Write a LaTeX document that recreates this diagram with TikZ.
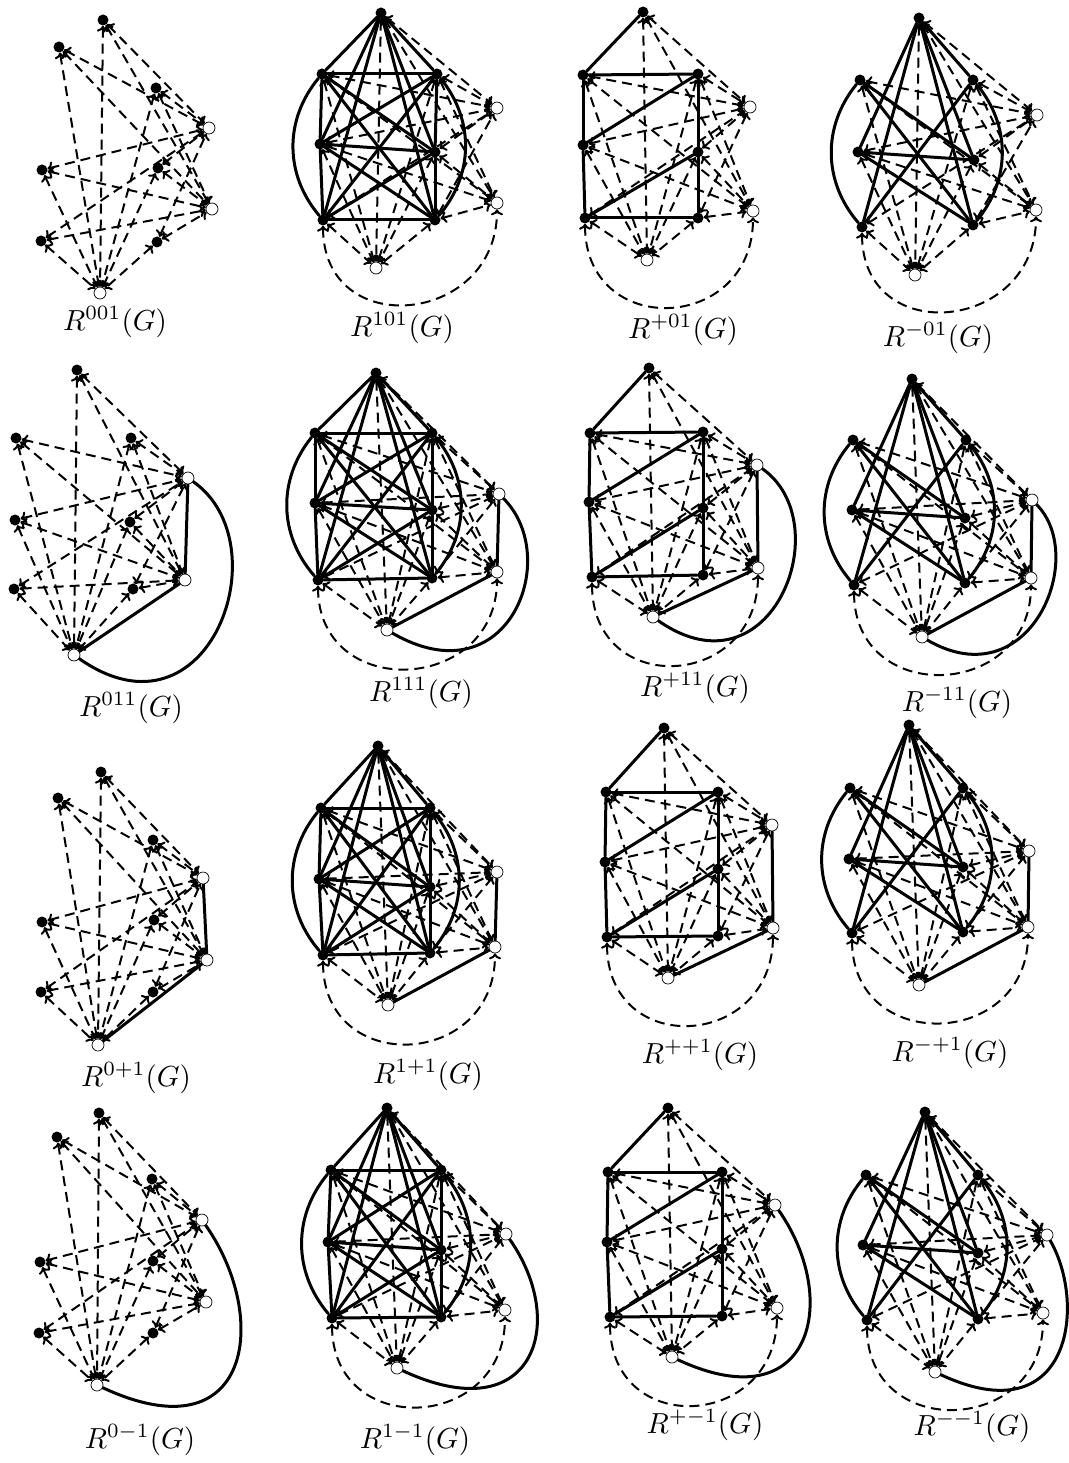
\documentclass[tikz,border=0pt]{standalone}
\usetikzlibrary{arrows.meta}
\pgfdeclarelayer{bg}
\pgfsetlayers{bg,main}
\newcommand\mkpanel[3]{%
 \foreach \nm/\xx/\yy in {#2}{\node[bv] (#1\nm) at (\xx,-\yy) {};}%
 \foreach \nm/\xx/\yy in {#3}{\node[wv] (#1\nm) at (\xx,-\yy) {};}%
}
% dashed black-white edges, all straight (column 1)
\newcommand\dashA[1]{%
 \foreach \bb in {T,LT,RT,LM,RM,LB,RB}{\foreach \ww in {W1,W2,W3}{\draw[dedge] (#1\bb) -- (#1\ww);}}%
}
% dashed black-white edges, LB-W2 as arc (columns 2-4)
\newcommand\dashB[1]{%
 \foreach \bb in {T,LT,RT,LM,RM,LB,RB}{\foreach \ww in {W1,W3}{\draw[dedge] (#1\bb) -- (#1\ww);}}%
 \foreach \bb in {T,LT,RT,LM,RM,RB}{\draw[dedge] (#1\bb) -- (#1W2);}%
 \draw[dedge] (#1LB) .. controls +(-90:122) and +(-90:122) .. (#1W2);%
}
\newcommand\Kseven[1]{%
 \foreach \uu/\vv in {T/LT,T/RT,T/LM,T/RM,T/LB,T/RB,LT/RT,LT/LM,LT/RM,LT/RB,RT/LM,RT/RM,RT/LB,LM/RM,LM/LB,LM/RB,RM/LB,RM/RB,LB/RB}{\draw[sedge] (#1\uu) -- (#1\vv);}%
 \draw[sedge] (#1LT) to[bend right=40] (#1LB);%
 \draw[sedge] (#1RT) to[bend left=40] (#1RB);%
}
\newcommand\Gplus[1]{%
 \foreach \uu/\vv in {T/LT,LT/RT,LT/LM,LM/LB,RT/RM,RM/RB,LB/RB,LM/RT,LB/RM}{\draw[sedge] (#1\uu) -- (#1\vv);}%
}
\newcommand\Gminus[1]{%
 \foreach \uu/\vv in {T/RT,T/LM,T/RM,T/LB,T/RB,LT/RM,LT/RB,RT/LB,LM/RM,LM/RB}{\draw[sedge] (#1\uu) -- (#1\vv);}%
 \draw[sedge] (#1LT) to[bend right=40] (#1LB);%
 \draw[sedge] (#1RT) to[bend left=40] (#1RB);%
}
\newcommand\wpath[1]{\draw[sedge] (#1W1) -- (#1W2); \draw[sedge] (#1W2) -- (#1W3);}
\newcommand\warc[5]{\draw[sedge] (#1W1) .. controls +(#2:#3) and +(#4:#5) .. (#1W3);}
\begin{document}
\begin{tikzpicture}[x=1pt,y=1pt,
  bv/.style={circle,fill=black,inner sep=0pt,minimum size=11pt},
  wv/.style={circle,draw=black,line width=0.7pt,fill=white,inner sep=0pt,minimum size=12pt},
  sedge/.style={line width=3pt,line cap=round},
  dedge/.style={line width=2pt,dash pattern=on 10pt off 6pt,{To[length=6pt,width=12pt]}-{To[length=6pt,width=12pt]}},
  lab/.style={scale=2.9,inner sep=0pt}]
\useasboundingbox (0,0) rectangle (1068,-1463);
% ---------- column 1 ----------
\mkpanel{a}{T/103/20,LT/59/47,RT/156/88,LM/42/170,RM/158/168,LB/41/241,RB/157/242}{W1/209/128,W2/212/209,W3/100/293}
\mkpanel{b}{T/77/370,LT/16/438,RT/131/438,LM/15/520,RM/130/522,LB/14/589,RB/133/589}{W1/188/478,W2/185/580,W3/74/655}
\mkpanel{c}{T/101/772,LT/58/798,RT/153/840,LM/42/922,RM/154/920,LB/41/992,RB/153/992}{W1/203/878,W2/207/960,W3/98/1045}
\mkpanel{d}{T/99/1113,LT/57/1137,RT/152/1179,LM/40/1262,RM/153/1261,LB/39/1333,RB/153/1333}{W1/202/1220,W2/206/1302,W3/97/1385}
% ---------- column 2 ----------
\mkpanel{e}{T/381/13,LT/322/74,RT/437/74,LM/320/144,RM/435/152,LB/323/220,RB/435/220}{W1/497/108,W2/497/203,W3/376/268}
\mkpanel{f}{T/376/373,LT/315/433,RT/432/433,LM/315/503,RM/432/510,LB/318/580,RB/432/578}{W1/499/494,W2/497/572,W3/387/630}
\mkpanel{g}{T/378/746,LT/321/808,RT/430/808,LM/319/879,RM/430/887,LB/323/955,RB/430/953}{W1/497/872,W2/495/947,W3/388/1005}
\mkpanel{h}{T/387/1108,LT/331/1170,RT/441/1170,LM/328/1242,RM/441/1250,LB/332/1318,RB/441/1317}{W1/506/1234,W2/505/1310,W3/397/1368}
% ---------- column 3 ----------
\mkpanel{i}{T/643/12,LT/583/75,RT/698/74,LM/583/145,RM/698/152,LB/585/218,RB/698/218}{W1/750/107,W2/753/211,W3/647/260}
\mkpanel{j}{T/649/368,LT/590/433,RT/703/432,LM/589/502,RM/703/508,LB/592/577,RB/703/575}{W1/757/465,W2/758/568,W3/653/617}
\mkpanel{k}{T/664/728,LT/606/792,RT/718/792,LM/605/862,RM/718/869,LB/607/937,RB/718/936}{W1/772/825,W2/773/928,W3/668/978}
\mkpanel{l}{T/668/1108,LT/608/1172,RT/722/1172,LM/607/1242,RM/722/1249,LB/610/1317,RB/722/1316}{W1/775/1205,W2/777/1308,W3/672/1357}
% ---------- column 4 ----------
\mkpanel{m}{T/919/18,LT/860/80,RT/973/80,LM/858/152,RM/974/160,LB/862/227,RB/973/225}{W1/1037/115,W2/1036/210,W3/915/275}
\mkpanel{n}{T/912/379,LT/853/440,RT/966/440,LM/852/510,RM/965/518,LB/854/585,RB/965/583}{W1/1032/500,W2/1031/578,W3/922/637}
\mkpanel{o}{T/909/725,LT/850/788,RT/963/788,LM/849/859,RM/963/867,LB/852/933,RB/963/932}{W1/1029/851,W2/1028/927,W3/919/985}
\mkpanel{q}{T/925/1112,LT/866/1175,RT/978/1175,LM/863/1245,RM/978/1253,LB/867/1320,RB/978/1319}{W1/1047/1235,W2/1043/1313,W3/935/1372}
\begin{pgfonlayer}{bg}
% column 1
\dashA{a} \dashA{b} \dashA{c} \dashA{d}
\wpath{b} \warc{b}{-35}{115}{-35}{165}
\wpath{c}
\warc{d}{-55}{120}{-25}{170}
% column 2
\dashB{e} \dashB{f} \dashB{g} \dashB{h}
\Kseven{e} \Kseven{f} \Kseven{g} \Kseven{h}
\wpath{f} \warc{f}{-45}{90}{-30}{140}
\wpath{g}
\warc{h}{-55}{110}{-25}{150}
% column 3
\dashB{i} \dashB{j} \dashB{k} \dashB{l}
\Gplus{i} \Gplus{j} \Gplus{k} \Gplus{l}
\wpath{j} \warc{j}{-35}{101}{-35}{145}
\wpath{k}
\warc{l}{-55}{115}{-25}{155}
% column 4
\dashB{m} \dashB{n} \dashB{o} \dashB{q}
\Gminus{m} \Gminus{n} \Gminus{o} \Gminus{q}
\wpath{n} \warc{n}{-45}{80}{-30}{125}
\wpath{o}
\warc{q}{-60}{80}{-25}{150}
\end{pgfonlayer}
% labels
\node[lab] (la) at (115,-322) {$R^{001}(G)$};
\node[lab] (le) at (402,-328) {$R^{101}(G)$};
\node[lab] (li) at (683,-330) {$R^{+01}(G)$};
\node[lab] (lm) at (938,-338) {$R^{-01}(G)$};
\node[lab] (lb) at (131,-708) {$R^{011}(G)$};
\node[lab] (lf) at (421,-693) {$R^{111}(G)$};
\node[lab] (lj) at (695,-688) {$R^{+11}(G)$};
\node[lab] (ln) at (957,-703) {$R^{-11}(G)$};
\node[lab] (lc) at (136,-1078) {$R^{0+1}(G)$};
\node[lab] (lg) at (428,-1075) {$R^{1+1}(G)$};
\node[lab] (lk) at (700,-1055) {$R^{++1}(G)$};
\node[lab] (lo) at (950,-1053) {$R^{-+1}(G)$};
\node[lab] (ld) at (140,-1440) {$R^{0-1}(G)$};
\node[lab] (lh) at (415,-1440) {$R^{1-1}(G)$};
\node[lab] (ll) at (705,-1425) {$R^{+-1}(G)$};
\node[lab] (lq) at (972,-1427) {$R^{--1}(G)$};
\end{tikzpicture}
\end{document}
